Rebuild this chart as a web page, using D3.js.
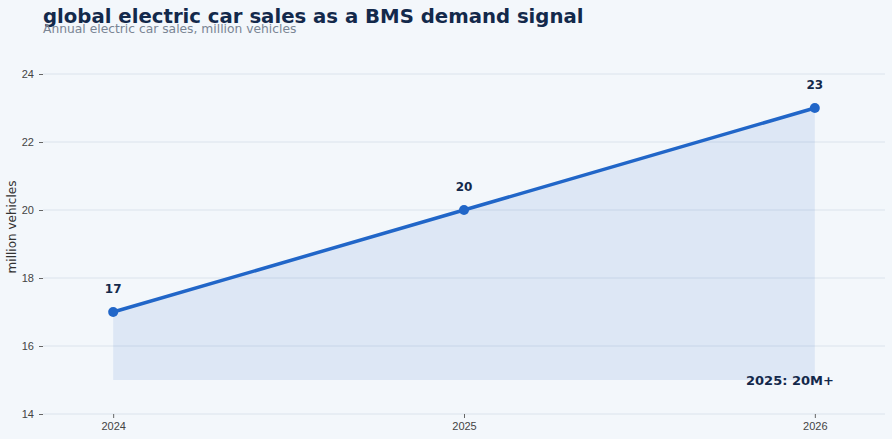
<!DOCTYPE html>
<html>
<head>
<meta charset="utf-8">
<script src="https://cdn.jsdelivr.net/npm/d3@7"></script>
<style>
  html, body { margin: 0; padding: 0; background: #f3f7fb; }
  svg { display: block; font-family: "DejaVu Sans", sans-serif; }
  .tick text { fill: #444; font-size: 11px; }
  .domain { display: none; }
</style>
</head>
<body>
<svg id="vis" width="892" height="439"></svg>
<script>
// data
const years = [2024, 2025, 2026];
const sales = [17, 20, 23];
const yTicks = [14, 16, 18, 20, 22, 24];
const note = '2025: 20M+';

const svg = d3.select('#vis');
const width = 892, height = 439;
const margin = {top: 74, right: 7, bottom: 25, left: 43};

const x = d3.scaleLinear()
  .domain([2023.8, 2026.2])
  .range([margin.left, width - margin.right]);

const y = d3.scaleLinear()
  .domain([14, 24])
  .range([height - margin.bottom, margin.top]);

const points = years.map((yr, i) => ({year: yr, value: sales[i]}));

// gridlines
svg.append('g')
  .selectAll('line')
  .data(yTicks)
  .enter().append('line')
    .attr('x1', margin.left)
    .attr('x2', width - margin.right)
    .attr('y1', d => y(d))
    .attr('y2', d => y(d))
    .attr('stroke', '#dbe3ec')
    .attr('stroke-width', 1);

// axes
const yAxis = svg.append('g')
  .attr('transform', 'translate(' + margin.left + ',0)')
  .call(d3.axisLeft(y).tickValues(yTicks).tickSize(4).tickPadding(5));
yAxis.selectAll('.tick line').attr('stroke', '#666');

const xAxis = svg.append('g')
  .attr('transform', 'translate(0,' + (height - margin.bottom) + ')')
  .call(d3.axisBottom(x).tickValues(years).tickFormat(d3.format('d')).tickSize(4).tickPadding(4));
xAxis.selectAll('.tick line').attr('stroke', '#666');

// shaded area down to 15
const area = d3.area()
  .x(d => x(d.year))
  .y0(y(15))
  .y1(d => y(d.value));

svg.append('path')
  .datum(points)
  .attr('d', area)
  .attr('fill', '#1f66c9')
  .attr('fill-opacity', 0.1);

const line = d3.line()
  .x(d => x(d.year))
  .y(d => y(d.value));

svg.append('path')
  .datum(points)
  .attr('d', line)
  .attr('fill', 'none')
  .attr('stroke', '#2166c8')
  .attr('stroke-width', 3.5);

svg.append('g')
  .selectAll('circle')
  .data(points)
  .enter().append('circle')
    .attr('cx', d => x(d.year))
    .attr('cy', d => y(d.value))
    .attr('r', 5)
    .attr('fill', '#2166c8');

svg.append('g')
  .selectAll('text')
  .data(points)
  .enter().append('text')
    .attr('x', d => x(d.year))
    .attr('y', d => y(d.value) - 19)
    .attr('text-anchor', 'middle')
    .style('font-size', '12px')
    .style('font-weight', 'bold')
    .attr('fill', '#13294b')
    .text(d => d.value);

// annotation
svg.append('text')
  .attr('x', x(2026) + 19)
  .attr('y', y(15) + 5)
  .attr('text-anchor', 'end')
  .style('font-size', '13px')
  .style('font-weight', 'bold')
  .attr('fill', '#13294b')
  .text(note);

// y axis title
svg.append('text')
  .attr('transform', 'translate(16,' + y(19.5) + ') rotate(-90)')
  .attr('text-anchor', 'middle')
  .style('font-size', '12px')
  .attr('fill', '#333')
  .text('million vehicles');

// titles
svg.append('text')
  .attr('x', 43)
  .attr('y', 23)
  .style('font-size', '19.7px')
  .style('font-weight', 'bold')
  .attr('fill', '#13294b')
  .text('global electric car sales as a BMS demand signal');

svg.append('text')
  .attr('x', 43)
  .attr('y', 33)
  .style('font-size', '12.3px')
  .attr('fill', '#7a8594')
  .text('Annual electric car sales, million vehicles');
</script>
</body>
</html>
